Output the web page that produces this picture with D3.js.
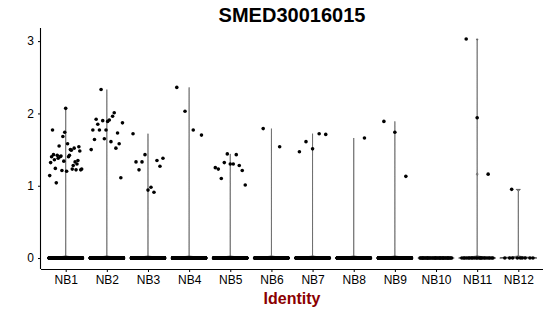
<!DOCTYPE html>
<html>
<head>
<meta charset="utf-8">
<script src="https://cdn.jsdelivr.net/npm/d3@7"></script>
<style>
  body { margin: 0; background: #fff; }
  text { font-family: "Liberation Sans", Arial, sans-serif; }
</style>
</head>
<body>
<svg id="drawing_region"></svg>
<script>
// cluster names
const clusters = ["NB1","NB2","NB3","NB4","NB5","NB6","NB7","NB8","NB9","NB10","NB11","NB12"];
// cells with zero expression per cluster (estimated)
const zeroCounts = [1500, 1300, 1200, 1200, 1100, 900, 1000, 950, 950, 40, 22, 9];
// non-zero expression values per cluster, read roughly left to right
const nb1 = [1.14, 1.32, 1.40, 1.77, 1.43, 1.36, 1.24, 1.04, 1.42, 1.38, 1.55, 1.40, 1.41, 1.21, 1.68, 1.34, 1.74, 2.07,
             1.20, 1.58, 1.40, 1.42, 1.50, 1.49, 1.23, 1.28, 1.52, 1.33, 1.22, 1.30, 1.35, 1.54, 1.48, 1.22, 1.23];
const nb2 = [1.50, 1.77, 1.64, 1.92, 1.85, 1.77, 2.33, 1.90, 1.65, 1.77, 1.89, 1.91, 1.61, 1.96, 2.01, 1.52, 1.73, 1.58, 1.11, 1.87];
const nb3 = [1.72, 1.33, 1.22, 1.33, 1.43, 0.94, 0.98, 0.91, 1.35, 1.27, 1.38];
const nb4 = [2.36, 2.03, 1.77, 1.70];
const nb5 = [1.25, 1.23, 1.10, 1.32, 1.44, 1.30, 1.30, 1.43, 1.28, 1.21, 1.01];
const nb6 = [1.79, 1.54];
const nb7 = [1.47, 1.61, 1.51, 1.72, 1.71];
const nb8 = [1.66];
const nb9 = [1.89, 1.74, 1.13];
const nb10 = [];
const nb11 = [3.03, 1.94, 1.16];
const nb12 = [0.95];
const nonZero = [nb1, nb2, nb3, nb4, nb5, nb6, nb7, nb8, nb9, nb10, nb11, nb12];
const yTicks = [0, 1, 2, 3];

const config = {
  width: 550, height: 316,
  margin: {top: 28, right: 7, bottom: 47, left: 41},
  bandwidth: 0.012,
  radius: 1.8
};

const svg = d3.select('#drawing_region')
  .attr('width', config.width)
  .attr('height', config.height);

const innerW = config.width - config.margin.left - config.margin.right;
const innerH = config.height - config.margin.top - config.margin.bottom;

const chart = svg.append('g')
  .attr('transform', `translate(${config.margin.left}, ${config.margin.top})`);

// discrete scale with ggplot-like 0.6 expansion
const n = clusters.length;
const step = innerW / (n - 1 + 1.2);
const x = d3.scalePoint().domain(clusters).range([0.6 * step, innerW - 0.6 * step]);

const yMax = d3.max(nonZero.flat());
const pad = yMax * 0.05;
const y = d3.scaleLinear().domain([-pad, yMax + pad]).range([innerH, 0]);

// violins: gaussian KDE, scaled to equal max width, trimmed to data range
const halfW = 0.45 * step;
function kde(values, bw, lo, hi) {
  const pts = d3.range(0, 601).map(i => lo + (hi - lo) * i / 600);
  return pts.map(t => {
    let s = 0;
    values.forEach(v => {
      const u = (t - v) / bw;
      s += Math.exp(-0.5 * u * u);
    });
    return [t, s];
  });
}

clusters.forEach((c, i) => {
  const vals = nonZero[i];
  const zeros = d3.range(zeroCounts[i]).map(() => 0);
  const all = zeros.concat(vals);
  const lo = 0, hi = d3.max(all);
  const cx = x(c);
  if (hi <= lo) {
    chart.append('line')
      .attr('x1', cx - halfW).attr('x2', cx + halfW)
      .attr('y1', y(0)).attr('y2', y(0))
      .attr('stroke', '#222').attr('stroke-width', 0.5);
    return;
  }
  const dens = kde(all, config.bandwidth, lo, hi);
  const dmax = d3.max(dens, d => d[1]);
  const w = d3.scaleLinear().domain([0, dmax]).range([0, halfW]);
  const area = d3.area()
    .y(d => y(d[0]))
    .x0(d => cx - w(d[1]))
    .x1(d => cx + w(d[1]));
  chart.append('path')
    .datum(dens)
    .attr('d', d => area(d) )
    .attr('fill', '#888')
    .attr('stroke', '#222')
    .attr('stroke-width', 0.5);
  // bottom edge of trimmed violin
  chart.append('line')
    .attr('x1', cx - halfW).attr('x2', cx + halfW)
    .attr('y1', y(0)).attr('y2', y(0))
    .attr('stroke', '#222').attr('stroke-width', 0.5);
});

// jittered points (deterministic jitter)
const jw = 0.4 * step;
const golden = 0.6180339887;
clusters.forEach((c, i) => {
  const cx = x(c);
  const nz = nonZero[i];
  const zeroPts = d3.range(zeroCounts[i]).map(k => ({v: 0, dx: (((k + 1) * golden) % 1) * 2 - 1}));
  const nzPts = nz.map((v, k) => {
    // a lone point gets an offset from the cluster index, others spread evenly
    const f = nz.length === 1 ? (i * golden + 0.5) % 1 : (k + 0.5) / nz.length;
    return {v: v, dx: f * 2 - 1};
  });
  chart.append('g').selectAll('circle')
    .data(zeroPts.concat(nzPts))
    .enter()
    .append('circle')
    .attr('cx', d => cx + d.dx * jw)
    .attr('cy', d => y(d.v))
    .attr('r', config.radius)
    .attr('fill', 'black');
});

// axes
const xAxis = chart.append('g')
  .attr('transform', `translate(0, ${innerH})`)
  .call(d3.axisBottom(x).tickSize(3).tickPadding(3));
const yAxis = chart.append('g')
  .call(d3.axisLeft(y).tickValues(yTicks).tickSize(3).tickPadding(4).tickFormat(d3.format('d')));

[xAxis, yAxis].forEach(a => {
  a.select('.domain').attr('stroke', 'black').attr('stroke-width', 1.1);
  a.selectAll('.tick line').attr('stroke', 'black');
  a.selectAll('.tick text')
    .attr('fill', 'black')
    .attr('font-size', '12px')
    .attr('font-family', '"Liberation Sans", Arial, sans-serif');
});
xAxis.select('.domain').attr('d', `M0,0.5H${innerW}`);
yAxis.select('.domain').attr('d', `M-0.5,0V${innerH}`);

// title
svg.append('text')
  .attr('x', config.margin.left + innerW / 2)
  .attr('y', 22)
  .attr('text-anchor', 'middle')
  .attr('font-size', '20px')
  .attr('font-weight', 'bold')
  .text('SMED30016015');

// x label
svg.append('text')
  .attr('x', config.margin.left + innerW / 2)
  .attr('y', 304)
  .attr('text-anchor', 'middle')
  .attr('font-size', '16px')
  .attr('font-weight', 'bold')
  .attr('fill', '#8B0000')
  .text('Identity');
</script>
</body>
</html>
